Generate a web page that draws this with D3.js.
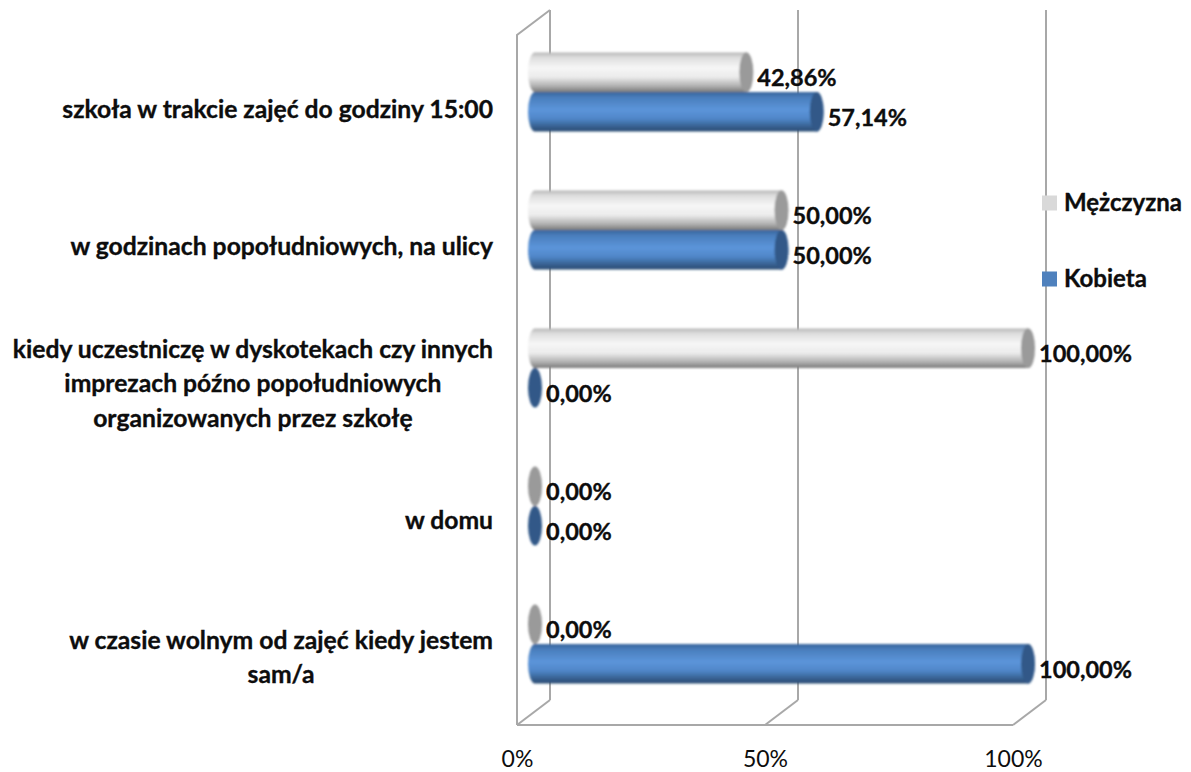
<!DOCTYPE html>
<html>
<head>
<meta charset="utf-8">
<script src="https://cdnjs.cloudflare.com/ajax/libs/d3/7.8.5/d3.min.js"></script>
<style>
html, body { margin: 0; padding: 0; background: #fff; }
svg { display: block; }
text { font-family: Lato, "Open Sans", sans-serif; fill: #0d0d0d; }
.bold { font-weight: 700; stroke: #0d0d0d; stroke-width: 0.35px; }
</style>
</head>
<body>
<div id="chart"></div>
<script>
// data, top to bottom as in the chart
const categories = [
	["szkoła w trakcie zajęć do godziny 15:00"],
	["w godzinach popołudniowych, na ulicy"],
	["kiedy uczestniczę w dyskotekach czy innych", "imprezach późno popołudniowych", "organizowanych przez szkołę"],
	["w domu"],
	["w czasie wolnym od zajęć kiedy jestem", "sam/a"]
];
const legendNames = ["Mężczyzna", "Kobieta"];
const menValues = [42.86, 50, 100, 0, 0];
const womenValues = [57.14, 50, 0, 0, 100];
const axisTicks = [0, 50, 100];

const width = 1191, height = 772;
const depthX = 33, depthY = -25;	// 3d offset of the back wall
const floorY = 725, topY = 35;
const capRx = 7;

const svg = d3.select("#chart").append("svg")
	.attr("width", width)
	.attr("height", height);

const defs = svg.append("defs");

// vertical shading of the cylinders
function addGradient(id, stops) {
	const grad = defs.append("linearGradient")
		.attr("id", id)
		.attr("x1", 0).attr("y1", 0).attr("x2", 0).attr("y2", 1);
	stops.forEach(s => grad.append("stop").attr("offset", s[0]).attr("stop-color", s[1]));
}
addGradient("gradMen", [[0, "#b5b5b5"], [0.12, "#dcdcdc"], [0.38, "#f6f6f6"], [0.62, "#ececec"], [0.85, "#b0b0b0"], [1, "#7a7a7a"]]);
addGradient("gradWomen", [[0, "#39659c"], [0.15, "#4a7fbe"], [0.45, "#5c95da"], [0.68, "#4f86c8"], [0.88, "#36608f"], [1, "#2a4a72"]]);

const soft = defs.append("filter").attr("id", "soft");
soft.append("feGaussianBlur").attr("stdDeviation", 0.8);

const frontX = d3.scaleLinear().domain([0, 100]).range([517, 1013]);
const barX = d3.scaleLinear().domain([0, 100]).range([535, 1028]);
const catY = d3.scaleBand().domain(d3.range(categories.length)).range([23, 713]);
const serY = d3.scaleBand().domain([0, 1]).range([catY.bandwidth() / 2 - 39.5, catY.bandwidth() / 2 + 39.5]);
// labels sit lower than the bars and step a little tighter
const labelY = d3.scaleBand().domain(d3.range(categories.length)).range([41.5, 726.5]);

// walls of the 3d box
const grid = svg.append("g")
	.attr("fill", "none")
	.attr("stroke", "#a8a8a8")
	.attr("stroke-width", 2);

axisTicks.forEach(t => {
	grid.append("line")
		.attr("x1", frontX(t) + depthX).attr("x2", frontX(t) + depthX)
		.attr("y1", topY + depthY).attr("y2", floorY + depthY);
	grid.append("line")
		.attr("x1", frontX(t)).attr("x2", frontX(t) + depthX)
		.attr("y1", floorY).attr("y2", floorY + depthY);
});
grid.append("line")
	.attr("x1", frontX(0)).attr("x2", frontX(100))
	.attr("y1", floorY).attr("y2", floorY);
grid.append("path")
	.attr("d", "M" + frontX(0) + "," + floorY + "V" + topY + "l" + depthX + "," + depthY);

// cylinders
const series = [
	{ values: menValues, fill: "url(#gradMen)", cap: "#9a9a9a" },
	{ values: womenValues, fill: "url(#gradWomen)", cap: "#315888" }
];

const bars = svg.append("g").attr("filter", "url(#soft)");
series.forEach((s, j) => {
	const g = bars.append("g");
	s.values.forEach((v, i) => {
		const cy = catY(i) + serY(j) + serY.bandwidth() / 2;
		const ry = serY.bandwidth() / 2;
		if (v > 0) {
			g.append("path")
				.attr("d", "M" + barX(0) + "," + (cy - ry)
					+ "H" + barX(v)
					+ "A" + capRx + "," + ry + " 0 0 1 " + barX(v) + "," + (cy + ry)
					+ "H" + barX(0)
					+ "A" + capRx + "," + ry + " 0 0 1 " + barX(0) + "," + (cy - ry) + "Z")
				.attr("fill", s.fill);
		}
		g.append("ellipse")
			.attr("cx", barX(v))
			.attr("cy", cy)
			.attr("rx", capRx)
			.attr("ry", ry)
			.attr("fill", s.cap);
	});
});

// value labels
const fmt = v => v.toFixed(2).replace(".", ",") + "%";
series.forEach((s, j) => {
	s.values.forEach((v, i) => {
		svg.append("text")
			.attr("class", "bold")
			.attr("x", barX(v) + 11)
			.attr("y", catY(i) + serY(j) + serY.bandwidth() / 2 + 14)
			.attr("font-size", 23.5)
			.text(fmt(v));
	});
});

// category labels
categories.forEach((lines, i) => {
	const cy = labelY(i) + labelY.bandwidth() / 2;
	const lineH = 34.5;
	const multi = lines.length > 1;
	const t = svg.append("text")
		.attr("class", "bold")
		.attr("font-size", 24.7)
		.attr("text-anchor", multi ? "middle" : "end");
	lines.forEach((line, k) => {
		t.append("tspan")
			.attr("x", 493)
			.attr("y", cy + 8 + (k - (lines.length - 1) / 2) * lineH)
			.text(line);
	});
	if (multi) {
		// lines are centred inside a block that ends at the right edge
		const w = t.node().getBBox().width;
		t.selectAll("tspan").attr("x", 493 - w / 2);
	}
});

// bottom axis
const axis = svg.append("g")
	.attr("transform", "translate(0," + 748 + ")")
	.call(d3.axisBottom(frontX).tickValues(axisTicks).tickSize(0).tickFormat(d => d + "%"));
axis.select(".domain").remove();
axis.selectAll("text")
	.attr("font-size", 23)
	.attr("font-family", "Lato")
	.attr("fill", "#1a1a1a");

// legend
const legendY = d3.scalePoint().domain(legendNames).range([203, 279]);
const legendColors = ["#d9d9d9", "#4f81bd"];
legendNames.forEach((name, i) => {
	svg.append("rect")
		.attr("x", 1042).attr("y", legendY(name) - 7.5)
		.attr("width", 15).attr("height", 15)
		.attr("fill", legendColors[i]);
	svg.append("text")
		.attr("class", "bold")
		.attr("x", 1064).attr("y", legendY(name) + 8)
		.attr("font-size", 24)
		.text(name);
});
</script>
</body>
</html>
